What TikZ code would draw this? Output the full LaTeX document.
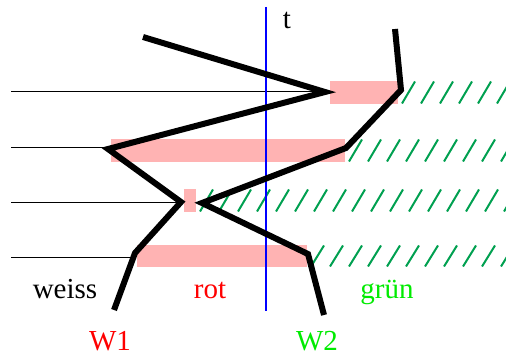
\documentclass[tikz,border=0pt]{standalone}
\usepackage{fontspec}
\setmainfont{Liberation Serif}
\definecolor{pinkfill}{RGB}{255,179,179}
\definecolor{hatchgreen}{RGB}{0,160,80}
\definecolor{txtgreen}{RGB}{0,235,0}
\begin{document}
\begin{tikzpicture}[x=1pt,y=-1pt,
  thinline/.style={line width=0.9pt,black},
  pinkband/.style={fill=pinkfill,draw=none},
  hatchline/.style={line width=2pt,hatchgreen},
  wline/.style={line width=6pt,black,line join=miter},
  lbl/.style={font=\fontsize{29}{32}\selectfont,anchor=base,inner sep=0pt}]
\useasboundingbox (0,0) rectangle (506,355);
% thin lines
\coordinate (l1) at (11,91);  \coordinate (l1e) at (328,91);
\coordinate (l2) at (11,147); \coordinate (l2e) at (105,147);
\coordinate (l3) at (11,202); \coordinate (l3e) at (182,202);
\coordinate (l4) at (11,257); \coordinate (l4e) at (134,257);
\draw[thinline] (l1) -- (l1e);
\draw[thinline] (l2) -- (l2e);
\draw[thinline] (l3) -- (l3e);
\draw[thinline] (l4) -- (l4e);
% pink bands
\fill[pinkband] (330,81) rectangle (398,104);
\fill[pinkband] (111,139) rectangle (345,162);
\fill[pinkband] (184,189) rectangle (196,212);
\fill[pinkband] (137,245) rectangle (307,267);
% hatch bands
\foreach \xs/\yt/\yb in {398/81/104, 345/139/162, 196/189/212, 307/245/267}{
  \begin{scope}
    \clip (\xs,\yt) rectangle (506,\yb);
    \foreach \k in {0,...,17}{
      \draw[hatchline] ({\xs+4+19*\k},\yb-0.5) -- ({\xs+4+19*\k+13},\yt+0.5);
    }
  \end{scope}
}
% blue line
\coordinate (bt) at (266,7);
\coordinate (bb) at (266,311);
\draw[blue,line width=1.3pt] (bt) -- (bb);
% W1 path
\coordinate (a0) at (143,37);
\coordinate (a1) at (325,92);
\coordinate (a2) at (108,149);
\coordinate (a3) at (181,202);
\coordinate (a4) at (135,253);
\coordinate (a5) at (114,310);
\draw[wline] (a0) -- (a1) -- (a2) -- (a3) -- (a4) -- (a5);
% W2 path
\coordinate (b0) at (395,29);
\coordinate (b1) at (401,90);
\coordinate (b2) at (346,148);
\coordinate (b3) at (202,203);
\coordinate (b4) at (308,254);
\coordinate (b5) at (324,315);
\draw[wline] (b0) -- (b1) -- (b2) -- (b3) -- (b4) -- (b5);
% labels
\node[lbl] (t) at (287,29) {t};
\node[lbl] (weiss) at (65,299) {weiss};
\node[lbl,text=red] (rot) at (210,299) {rot};
\node[lbl,text=txtgreen] (gruen) at (387,299) {grün};
\node[lbl,text=red] (w1) at (110,350) {W1};
\node[lbl,text=txtgreen] (w2) at (317,350) {W2};
\end{tikzpicture}
\end{document}
